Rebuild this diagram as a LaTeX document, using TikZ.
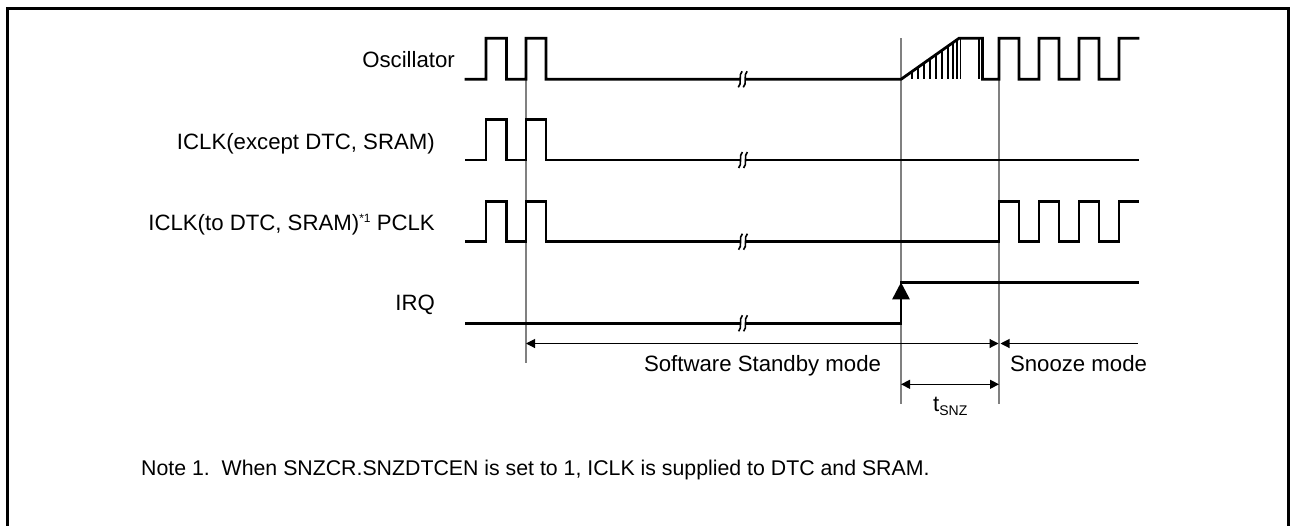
\documentclass[tikz,border=0pt]{standalone}
\usepackage{fontspec}
\setmainfont{Liberation Sans}
\usetikzlibrary{arrows.meta}
\begin{document}
\begin{tikzpicture}[x=1pt,y=-1pt,
  sig/.style={line width=2.8pt, line join=miter, line cap=rect},
  hatch/.style={line width=1.7pt},
  guide/.style={line width=1.1pt, draw=black!50},
  dim/.style={line width=1.1pt},
  tipS/.tip={Triangle[length=9pt,width=9pt]},
  tipB/.tip={Triangle[length=17pt,width=17pt]},
  lbl/.style={inner sep=0pt, font=\fontsize{22.2}{26}\selectfont},
  notefont/.style={inner sep=0pt, font=\fontsize{21.3}{25}\selectfont},
  brk/.pic={
    \fill[white] (-2.4,-2.4) rectangle (2.4,2.4);
    \draw[line width=1.6pt] (-0.6,-8) .. controls (-4.6,-5) and (-0.4,5) .. (-4.4,8);
    \draw[line width=1.6pt] (4.4,-8) .. controls (0.4,-5) and (4.6,5) .. (0.6,8);
  }]
\useasboundingbox (0,0) rectangle (1290,525);
% frame
\draw[line width=2.6pt] (7.7,530) -- (7.7,8.7) -- (1288.5,8.7) -- (1288.5,530);

% guide lines
\coordinate (g1t) at (526,79.3);   \coordinate (g1b) at (526,363);
\coordinate (g2t) at (901,38.3);   \coordinate (g2b) at (901,404);
\coordinate (g3t) at (999,79.3);   \coordinate (g3b) at (999,404);
\draw[guide] (g1t) -- (g1b);
\draw[guide] (g2t) -- (g2b);
\draw[guide] (g3t) -- (g3b);

% Oscillator
\draw[sig] (466,79.3) -- (486,79.3) |- (506.5,38.3) |- (526,79.3) |- (546,38.3) |- (901,79.3)
  -- (959,38.3) -- (982.5,38.3) -- (982.5,79.3) -- (999,79.3)
  |- (1019,38.3) |- (1039,79.3) |- (1059,38.3) |- (1079,79.3) |- (1099,38.3) |- (1119,79.3) |- (1138,38.3);
\foreach \x in {912.3,918.3,924.3,930,935.7,941.7,947.7,953.3}
  \draw[hatch] (\x,{79.3-(\x-901)*41/58}) -- (\x,79.3);
\draw[hatch] (957.2,40) -- (957.2,79.3);
\draw[line width=1.8pt] (960.4,38.3) -- (960.4,79.3);
\draw[line width=1.4pt] (978.8,38.3) -- (978.8,79.3);
\pic at (742.7,79.3) {brk};

% ICLK (except)
\draw[sig] (466,160) -- (486,160) |- (506.5,119.3) |- (526,160) |- (546,119.3) |- (1138,160);
\pic at (743,160) {brk};

% ICLK (to DTC) / PCLK
\draw[sig] (466,241.7) -- (486,241.7) |- (506.5,201.7) |- (526,241.7) |- (546,201.7) |- (999,241.7)
  |- (1019,201.7) |- (1039,241.7) |- (1059,201.7) |- (1079,241.7) |- (1099,201.7) |- (1119,241.7) |- (1138,201.7);
\pic at (743,241.7) {brk};

% IRQ
\coordinate (irqL) at (901,323.3);
\coordinate (irqH) at (901,282.3);
\draw[sig] (466,323.3) -- (irqL);
\draw[sig] (irqH) -- (1138,282.3);
\draw[line width=2.8pt, -tipB] (irqL) -- (irqH);
\pic at (743,323.3) {brk};

% dimension arrows
\coordinate (sbL) at (526,343.5);  \coordinate (sbR) at (998.5,343.5);
\coordinate (snL) at (1000.5,343.5); \coordinate (snR) at (1138,343.5);
\coordinate (tL) at (901,384.3);   \coordinate (tR) at (999,384.3);
\draw[dim, tipS-tipS] (sbL) -- (sbR);
\draw[dim, tipS-] (snL) -- (snR);
\draw[dim, tipS-tipS] (tL) -- (tR);

% labels
\node[lbl, anchor=base east] (lOsc) at (455,67) {Oscillator};
\node[lbl, anchor=base east] (lIe) at (435,149) {ICLK(except DTC, SRAM)};
\node[lbl, anchor=base east] (lIt) at (435,230) {ICLK(to DTC, SRAM)\raisebox{7.5pt}{\fontsize{12}{12}\selectfont *1} PCLK};
\node[lbl, anchor=base east] (lIRQ) at (435,310) {IRQ};
\node[lbl, anchor=base] (lSB) at (762.5,371) {Software Standby mode};
\node[lbl, anchor=base] (lSN) at (1078.5,371) {Snooze mode};
\node[lbl, anchor=base west] (lT) at (933,411) {t\raisebox{-4pt}{\fontsize{14}{14}\selectfont SNZ}};
\node[notefont, anchor=base west] (note) at (141,475) {Note 1.\ \ When SNZCR.SNZDTCEN is set to 1, ICLK is supplied to DTC and SRAM.};
\end{tikzpicture}
\end{document}
